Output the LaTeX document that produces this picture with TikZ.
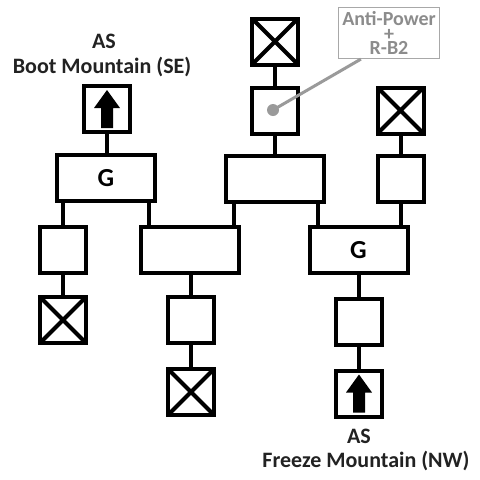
\documentclass[tikz,border=0pt]{standalone}
\usepackage{fontspec}
\setmainfont{Carlito}
\definecolor{ptrgray}{HTML}{9A9A9A}
\definecolor{calgray}{HTML}{A8A8A8}
\definecolor{caltext}{HTML}{8C8C8C}
\definecolor{lbltext}{HTML}{222222}
\begin{document}
\begin{tikzpicture}[x=1pt,y=-1pt,
  box/.style={draw, line width=4pt, inner sep=0pt, minimum width=46pt, minimum height=46pt,
    font=\fontsize{26}{28}\selectfont\bfseries},
  widebox/.style={box, minimum width=98pt},
  xbox/.style={box, path picture={
    \draw[line width=4pt] (path picture bounding box.north west) -- (path picture bounding box.south east)
      (path picture bounding box.north east) -- (path picture bounding box.south west);}},
  arrowbox/.style={box, path picture={
    \fill ([yshift=19pt]path picture bounding box.center)
      -- ([xshift=13pt,yshift=1pt]path picture bounding box.center)
      -- ([xshift=6pt,yshift=1pt]path picture bounding box.center)
      -- ([xshift=6pt,yshift=-19pt]path picture bounding box.center)
      -- ([xshift=-6pt,yshift=-19pt]path picture bounding box.center)
      -- ([xshift=-6pt,yshift=1pt]path picture bounding box.center)
      -- ([xshift=-13pt,yshift=1pt]path picture bounding box.center) -- cycle;}},
  link/.style={line width=4pt},
  lbl/.style={font=\fontsize{22}{24}\selectfont\bfseries, text=lbltext, inner sep=0pt, anchor=base},
  callout/.style={draw=calgray, line width=1.2pt, inner sep=0pt, minimum width=101pt, minimum height=51pt,
    text=caltext, align=center,
    font=\fontsize{20}{14.8}\selectfont\bfseries},
  pointer/.style={draw=ptrgray, line width=3pt}]
\lineskiplimit=-100pt\relax
\useasboundingbox (0,0) rectangle (480,480);
\fill[white] (0,0) rectangle (480,480);

% boxes
\node[arrowbox] (boot) at (107,109) {};
\node[widebox] (gL) at (106,178) {G};
\node[box] (sL) at (63,250) {};
\node[xbox] (xL) at (63,320) {};
\node[widebox] (bigC) at (189.5,250) {};
\node[box] (sB) at (191,320) {};
\node[xbox] (xB) at (191,392) {};
\node[widebox] (topC) at (275,178.5) {};
\node[box] (ap) at (275,111) {};
\node[xbox] (xT) at (275,41.5) {};
\node[xbox] (xR) at (400.5,110.5) {};
\node[box] (sR) at (400.5,178.5) {};
\node[widebox] (gR) at (358.5,250) {G};
\node[box] (sN) at (359,322) {};
\node[arrowbox] (aN) at (359,393.5) {};

% connectors
\coordinate (c1) at ([xshift=10pt]bigC.north west);
\coordinate (c2) at ([xshift=-7pt]bigC.north east);
\coordinate (c3) at ([xshift=10pt]gR.north west);
\draw[link] (boot.south) -- (boot.south |- gL.north);
\draw[link] (sL.north) -- (sL.north |- gL.south);
\draw[link] (xL.north) -- (sL.south);
\draw[link] (c1) -- (c1 |- gL.south);
\draw[link] (c2) -- (c2 |- topC.south);
\draw[link] (sB.north) -- (sB.north |- bigC.south);
\draw[link] (sB.south) -- (xB.north);
\draw[link] (xT.south) -- (ap.north);
\draw[link] (ap.south) -- (ap.south |- topC.north);
\draw[link] (c3) -- (c3 |- topC.south);
\draw[link] (xR.south) -- (sR.north);
\draw[link] (sR.south) -- (sR.south |- gR.north);
\draw[link] (sN.north) -- (sN.north |- gR.south);
\draw[link] (sN.south) -- (aN.north);

% callout
\node[callout] (cal) at (389,33) {Anti-Power\\+\\R-B2};
\node[circle, fill=ptrgray, inner sep=0pt, minimum size=12pt] (dot) at (273,110) {};
\draw[pointer] (dot.center) -- ([xshift=23pt]cal.south west);

% labels
\node[lbl] (bootAS) at (104,48) {AS};
\node[lbl] (bootName) at (102,73) {Boot Mountain (SE)};
\node[lbl] (nwAS) at (359,443) {AS};
\node[lbl] (nwName) at (366,467) {Freeze Mountain (NW)};
\end{tikzpicture}
\end{document}
